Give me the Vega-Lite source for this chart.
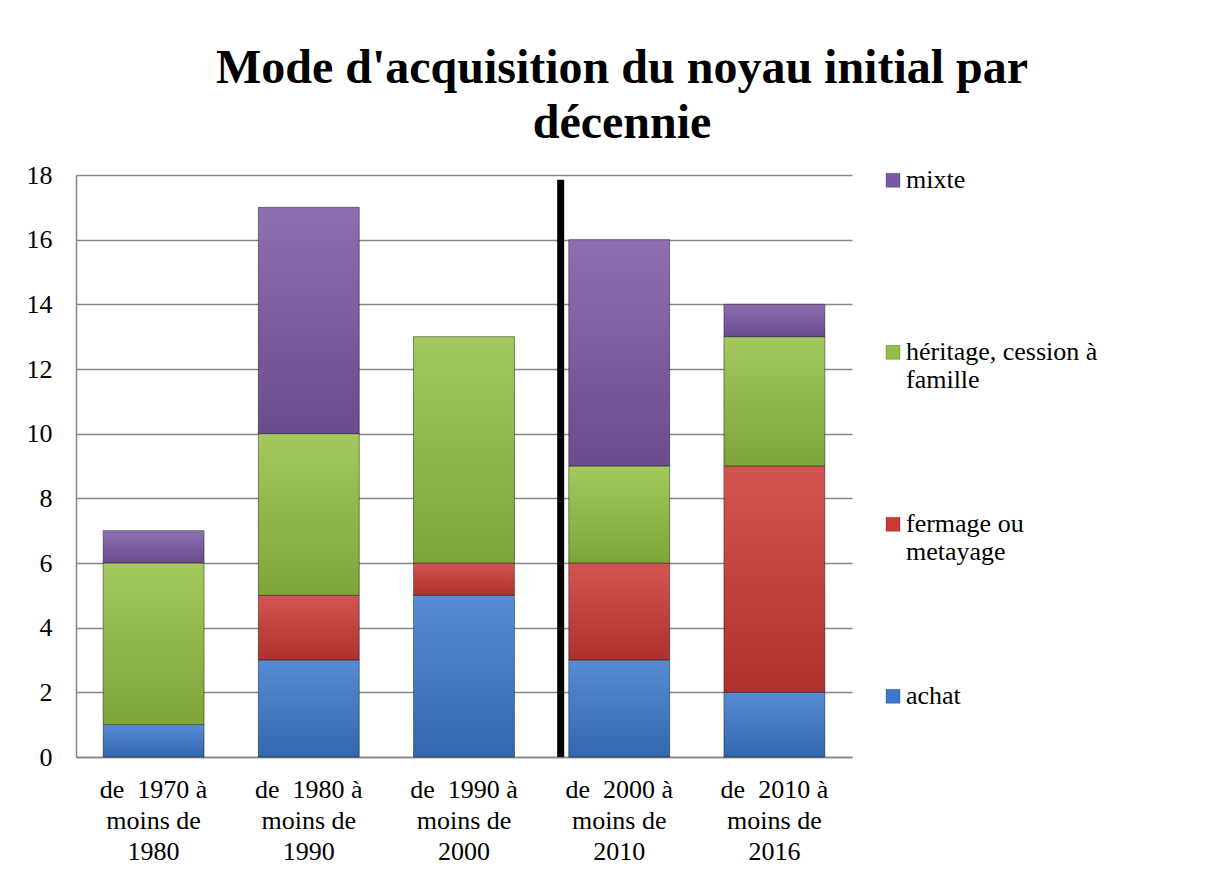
{
  "$schema": "https://vega.github.io/schema/vega-lite/v6.json",
  "width": 776,
  "height": 582,
  "padding": {"left": 26, "top": 45, "right": 5, "bottom": 0},
  "background": "white",
  "title": {
    "text": ["Mode d'acquisition du noyau initial par", "décennie"],
    "font": "Liberation Serif",
    "fontSize": 48,
    "fontWeight": "bold",
    "lineHeight": 55,
    "anchor": "middle",
    "dx": 158,
    "offset": 14,
    "color": "black"
  },
  "config": {
    "font": "Liberation Serif",
    "view": {"stroke": null}
  },
  "datasets": {
    "modes": [
      {"periode": "de\u00a0 1970 à moins de 1980", "mode": "achat", "effectif": 1},
      {"periode": "de\u00a0 1970 à moins de 1980", "mode": "héritage, cession à famille", "effectif": 5},
      {"periode": "de\u00a0 1970 à moins de 1980", "mode": "mixte", "effectif": 1},
      {"periode": "de\u00a0 1980 à moins de 1990", "mode": "achat", "effectif": 3},
      {"periode": "de\u00a0 1980 à moins de 1990", "mode": "fermage ou metayage", "effectif": 2},
      {"periode": "de\u00a0 1980 à moins de 1990", "mode": "héritage, cession à famille", "effectif": 5},
      {"periode": "de\u00a0 1980 à moins de 1990", "mode": "mixte", "effectif": 7},
      {"periode": "de\u00a0 1990 à moins de 2000", "mode": "achat", "effectif": 5},
      {"periode": "de\u00a0 1990 à moins de 2000", "mode": "fermage ou metayage", "effectif": 1},
      {"periode": "de\u00a0 1990 à moins de 2000", "mode": "héritage, cession à famille", "effectif": 7},
      {"periode": "de\u00a0 2000 à moins de 2010", "mode": "achat", "effectif": 3},
      {"periode": "de\u00a0 2000 à moins de 2010", "mode": "fermage ou metayage", "effectif": 3},
      {"periode": "de\u00a0 2000 à moins de 2010", "mode": "héritage, cession à famille", "effectif": 3},
      {"periode": "de\u00a0 2000 à moins de 2010", "mode": "mixte", "effectif": 7},
      {"periode": "de\u00a0 2010 à moins de 2016", "mode": "achat", "effectif": 2},
      {"periode": "de\u00a0 2010 à moins de 2016", "mode": "fermage ou metayage", "effectif": 7},
      {"periode": "de\u00a0 2010 à moins de 2016", "mode": "héritage, cession à famille", "effectif": 4},
      {"periode": "de\u00a0 2010 à moins de 2016", "mode": "mixte", "effectif": 1}
    ],
    "separateur": [
      {"periode": "de\u00a0 2000 à moins de 2010", "haut": 17.85}
    ]
  },
  "layer": [
    {
      "data": {"name": "modes"},
      "mark": {"type": "bar", "stroke": "rgba(0,0,0,0.45)", "strokeWidth": 1},
      "encoding": {
        "x": {
          "field": "periode",
          "type": "nominal",
          "scale": {"paddingInner": 0.35, "paddingOuter": 0.175},
          "axis": {
            "title": null,
            "labelAngle": 0,
            "labelFont": "Liberation Serif",
            "labelFontSize": 26,
            "labelColor": "black",
            "labelLineHeight": 31,
            "labelBaseline": "top",
            "labelPadding": 19.5,
            "labelLimit": 300,
            "ticks": false,
            "tickSize": 0,
            "grid": false,
            "domainColor": "#868686",
            "domainWidth": 1.5,
            "labelExpr": "[slice(datum.label, 0, 10), 'moins de', slice(datum.label, -4)]"
          }
        },
        "y": {
          "field": "effectif",
          "type": "quantitative",
          "stack": "zero",
          "scale": {"domain": [0, 18], "nice": false},
          "axis": {
            "title": null,
            "values": [0, 2, 4, 6, 8, 10, 12, 14, 16, 18],
            "labelFont": "Liberation Serif",
            "labelFontSize": 26,
            "labelColor": "black",
            "labelPadding": 24,
            "ticks": false,
            "tickSize": 0,
            "grid": true,
            "gridColor": "#868686",
            "gridWidth": 1.5,
            "domainColor": "#868686",
            "domainWidth": 1.5
          }
        },
        "color": {
          "field": "mode",
          "type": "nominal",
          "scale": {
            "domain": ["mixte", "héritage, cession à famille", "fermage ou metayage", "achat"],
            "range": ["#7a58a5", "#94bf42", "#cb3935", "#3b79cd"]
          },
          "legend": {
            "orient": "right",
            "offset": 28,
            "padding": 0,
            "title": null,
            "labelFont": "Liberation Serif",
            "labelFontSize": 26,
            "labelColor": "black",
            "labelLimit": 320,
            "labelBaseline": "alphabetic",
            "labelLineHeight": 30,
            "labelOffset": 0,
            "symbolType": "M-1,-2.1H1V-0.1H-1Z",
            "symbolSize": 196,
            "symbolStrokeWidth": 0.5,
            "rowPadding": 118,
            "labelExpr": "datum.label == 'héritage, cession à famille' ? ['héritage, cession à', 'famille'] : datum.label == 'fermage ou metayage' ? ['fermage ou', 'metayage'] : [datum.label, ' ']"
          }
        },
        "order": {"field": "mode", "sort": "ascending"}
      }
    },
    {
      "data": {"name": "modes"},
      "mark": {
        "type": "bar",
        "stroke": null,
        "fill": {
          "gradient": "linear",
          "x1": 0, "y1": 0, "x2": 0, "y2": 1,
          "stops": [
            {"offset": 0, "color": "rgba(255,255,255,0.14)"},
            {"offset": 1, "color": "rgba(0,0,0,0.14)"}
          ]
        }
      },
      "encoding": {
        "x": {"field": "periode", "type": "nominal"},
        "y": {"field": "effectif", "type": "quantitative", "stack": "zero"},
        "detail": {"field": "mode"},
        "order": {"field": "mode", "sort": "ascending"}
      }
    },
    {
      "data": {"name": "separateur"},
      "mark": {"type": "rule", "strokeWidth": 7, "color": "black"},
      "encoding": {
        "x": {"field": "periode", "type": "nominal", "bandPosition": -0.08},
        "y": {"field": "haut", "type": "quantitative"},
        "y2": {"datum": 0}
      }
    }
  ]
}
